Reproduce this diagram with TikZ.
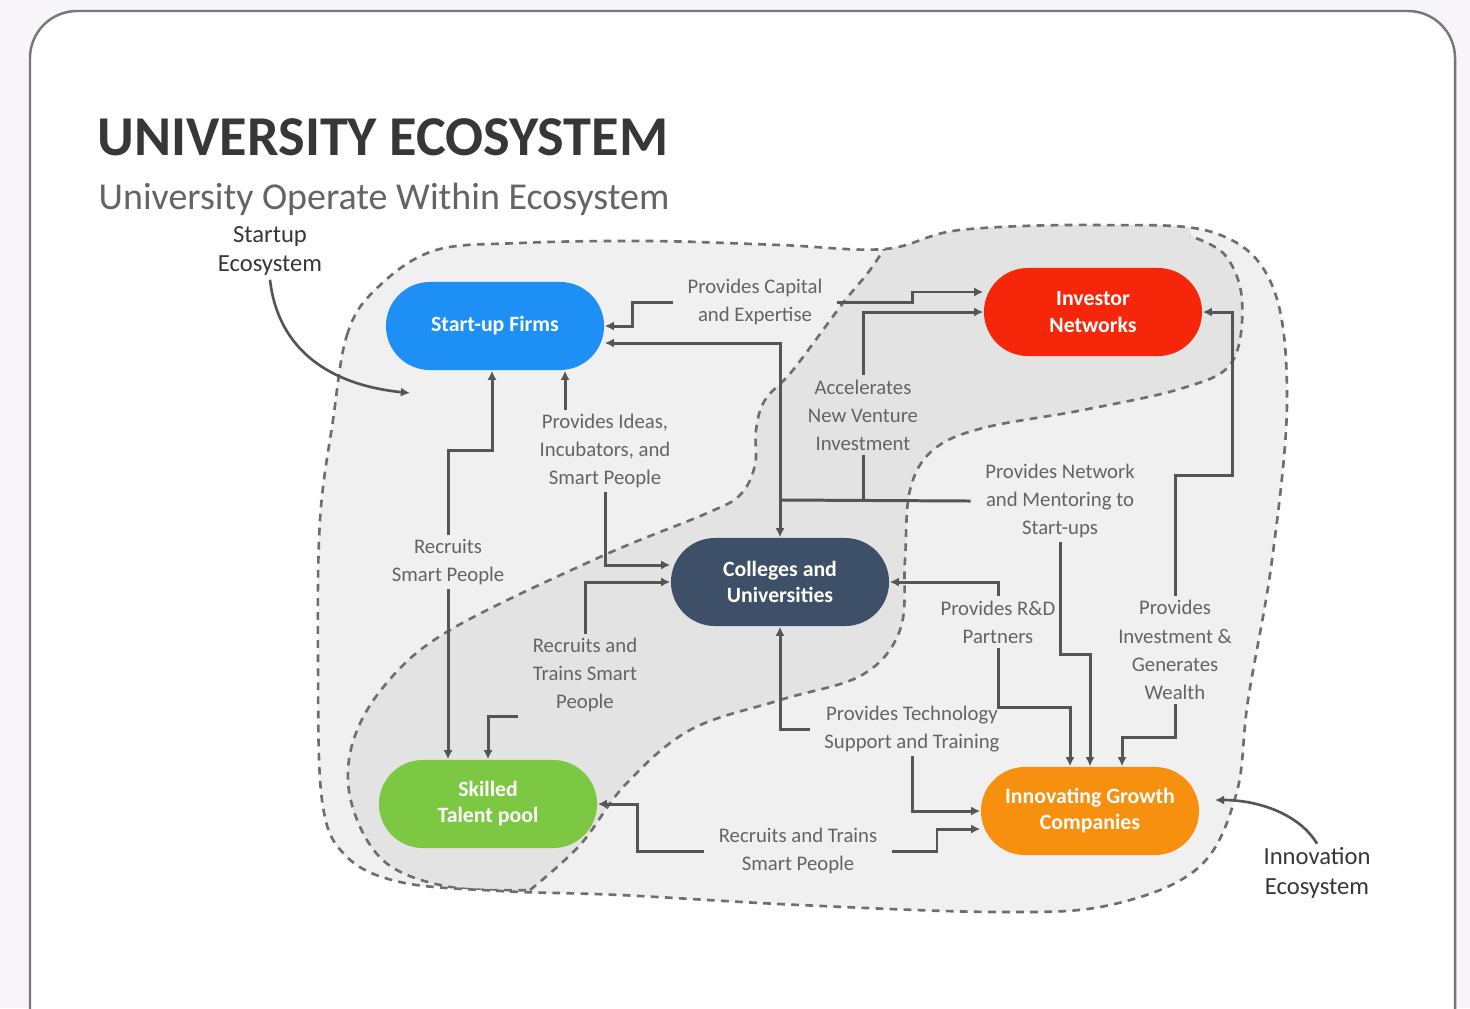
\documentclass[tikz,border=0pt]{standalone}
\usepackage{fontspec}
\setmainfont{Carlito}
\usetikzlibrary{arrows.meta}

\definecolor{pagebg}{RGB}{248,245,250}
\definecolor{framegray}{RGB}{120,120,120}
\definecolor{lightgray}{RGB}{240,240,240}
\definecolor{bandgray}{RGB}{227,227,227}
\definecolor{dashgray}{RGB}{110,110,110}
\definecolor{linkgray}{RGB}{85,85,85}
\definecolor{labelgray}{RGB}{100,100,100}
\definecolor{titlegray}{RGB}{55,55,55}
\definecolor{subgray}{RGB}{100,100,100}
\definecolor{startupblue}{RGB}{30,144,245}
\definecolor{investorred}{RGB}{245,38,10}
\definecolor{collegenavy}{RGB}{62,80,104}
\definecolor{talentgreen}{RGB}{125,200,67}
\definecolor{growthorange}{RGB}{247,144,15}

\def\outerblob{plot[smooth cycle, tension=0.6] coordinates {(333,420) (347,335) (375,290) (433,251) (520,243) (650,241) (780,245) (885,249) (960,230) (1100,225) (1215,233) (1272,285) (1287,400) (1272,560) (1248,700) (1236,795) (1198,868) (1110,905) (1000,912) (800,905) (620,895) (500,891) (400,882) (345,855) (322,800) (318,660) (320,520)}}

\begin{document}
\begin{tikzpicture}[x=0.01cm, y=-0.01cm,
  >={Latex[length=2.6pt,width=2.6pt]},
  pill/.style={rectangle, rounded corners=0.44cm, minimum width=2.18cm, minimum height=0.88cm, inner sep=0pt, text=white, align=center, font=\bfseries\fontsize{6.2}{7.4}\selectfont},
  lbl/.style={text=labelgray, align=center, inner xsep=4pt, inner ysep=1pt, font=\fontsize{5.9}{8}\selectfont},
  ecolbl/.style={text=titlegray, align=center, inner sep=1pt, font=\fontsize{7}{8.3}\selectfont},
  link/.style={draw=linkgray, line width=0.85pt},
  ecoarrow/.style={draw=linkgray, line width=0.75pt, ->},
  blobedge/.style={draw=dashgray, line width=0.75pt, dash pattern=on 2.2pt off 1.8pt}]
  \useasboundingbox (0,0) rectangle (1470,1008);
  \clip (0,0) rectangle (1470,1008);
  \fill[pagebg] (0,0) rectangle (1470,1008);
  \draw[framegray, line width=0.7pt, fill=white, rounded corners=0.47cm] (30,11) rectangle (1455,1060);

  \node[anchor=base west, inner sep=0pt, text=titlegray, font=\bfseries\fontsize{16}{18}\selectfont] (title) at (97,155) {UNIVERSITY ECOSYSTEM};
  \node[anchor=base west, inner sep=0pt, text=subgray, font=\fontsize{10.8}{12}\selectfont] (subtitle) at (98,209) {University Operate Within Ecosystem};

  \fill[lightgray] \outerblob;
  \begin{scope}
    \clip \outerblob;
    \fill[bandgray] plot[smooth, tension=0.6] coordinates {(895,232) (870,270) (843,303) (793,370) (765,400) (756,430) (755,465) (740,495) (705,514) (600,557) (450,630) (385,685) (352,745) (352,805) (385,862) (450,887) (530,890)}
      -- plot[smooth, tension=0.6] coordinates {(530,890) (580,845) (625,785) (690,730) (780,700) (862,675) (900,630) (905,560) (910,490) (933,450) (983,428) (1083,410) (1183,388) (1232,362) (1242,300) (1225,255) (1190,236)}
      -- (1190,150) -- (895,150) -- cycle;
    \draw[blobedge] plot[smooth, tension=0.6] coordinates {(895,232) (870,270) (843,303) (793,370) (765,400) (756,430) (755,465) (740,495) (705,514) (600,557) (450,630) (385,685) (352,745) (352,805) (385,862) (450,887) (530,890)};
    \draw[blobedge] plot[smooth, tension=0.6] coordinates {(530,890) (580,845) (625,785) (690,730) (780,700) (862,675) (900,630) (905,560) (910,490) (933,450) (983,428) (1083,410) (1183,388) (1232,362) (1242,300) (1225,255) (1190,236)};
  \end{scope}
  \draw[blobedge] \outerblob;

  \node[pill, fill=startupblue] (startup) at (495,326) {Start-up Firms};
  \node[pill, fill=investorred] (investor) at (1093,312) {Investor\\Networks};
  \node[pill, fill=collegenavy] (college) at (780,582) {Colleges and\\Universities};
  \node[pill, fill=talentgreen] (talent) at (488,804) {Skilled\\Talent pool};
  \node[pill, fill=growthorange] (growth) at (1090,811) {Innovating Growth\\Companies};

  \node[lbl] (capital) at (755,302) {Provides Capital\\and Expertise};
  \node[lbl] (ideas) at (605,451) {Provides Ideas,\\Incubators, and\\Smart People};
  \node[lbl] (accel) at (863,415) {Accelerates\\New Venture\\Investment};
  \node[lbl] (network) at (1060,501) {Provides Network\\and Mentoring to\\Start-ups};
  \node[lbl] (recruits) at (448,562) {Recruits\\Smart People};
  \node[lbl] (trainsmid) at (585,675) {Recruits and\\Trains Smart\\People};
  \node[lbl] (rnd) at (998,622) {Provides R\&D\\Partners};
  \node[lbl] (invest) at (1175,650) {Provides\\Investment \&\\Generates\\Wealth};
  \node[lbl] (tech) at (912,729) {Provides Technology\\Support and Training};
  \node[lbl] (trainsbot) at (798,851) {Recruits and Trains\\Smart People};

  \node[ecolbl] (startupeco) at (270,251) {Startup\\Ecosystem};
  \node[ecolbl] (innoeco) at (1317,873) {Innovation\\Ecosystem};
  \coordinate (startuptip) at (410,393);
  \coordinate (innotip) at (1215,800);
  \coordinate (hub) at (780,500);
  \coordinate (accelfoot) at (863,500);

  \draw[link,<-] (startup.east) -- ++(28,0) |- (capital.west);
  \draw[link,->] (capital.east) -- ++(75,0) |- ([yshift=0.2cm]investor.west);
  \draw[link,<-] ([yshift=-0.17cm]startup.east) -| (hub);
  \draw[link,->] (hub) -- (college.north);
  \draw[link] (hub) -- (network.west);
  \draw[link] (accelfoot) -- (accel.south);
  \draw[link,->] (accel.north) |- (investor.west);
  \draw[link,<-] ([xshift=-0.03cm]startup.south) -- ++(0,80) -| (recruits.north);
  \draw[link,->] (recruits.south) -- (recruits.south |- talent.north);
  \draw[link,<-] ([xshift=0.7cm]startup.south) -- ([xshift=0.7cm]startup.south |- ideas.north);
  \draw[link,->] (ideas.south) |- ([yshift=0.17cm]college.west);
  \draw[link,<-] (college.west) -| (trainsmid.north);
  \draw[link,->] (trainsmid.south west) -| (talent.north);
  \draw[link,<-] (college.east) -| (rnd.north);
  \draw[link,->] (rnd.south) -- ++(0,60) -| ([xshift=-0.2cm]growth.north);
  \draw[link,->] (network.south) -- ++(0,112) -| (growth.north);
  \draw[link,->] (invest.south) -- ++(0,34) -| ([xshift=0.32cm]growth.north);
  \draw[link,->] (invest.north) |- (1232,475) |- (investor.east);
  \draw[link,<-] (college.south) |- (tech.west);
  \draw[link,->] (tech.south) |- (growth.west);
  \draw[link,<-] (talent.east) -- ++(40,0) |- (trainsbot.west);
  \draw[link,->] (trainsbot.east) -- ++(45,0) |- ([yshift=-0.18cm]growth.west);

  \draw[ecoarrow] (startupeco.south) .. controls (278,350) and (330,385) .. (startuptip);
  \draw[ecoarrow] (innoeco.north) .. controls (1300,815) and (1260,800) .. (innotip);
\end{tikzpicture}
\end{document}
